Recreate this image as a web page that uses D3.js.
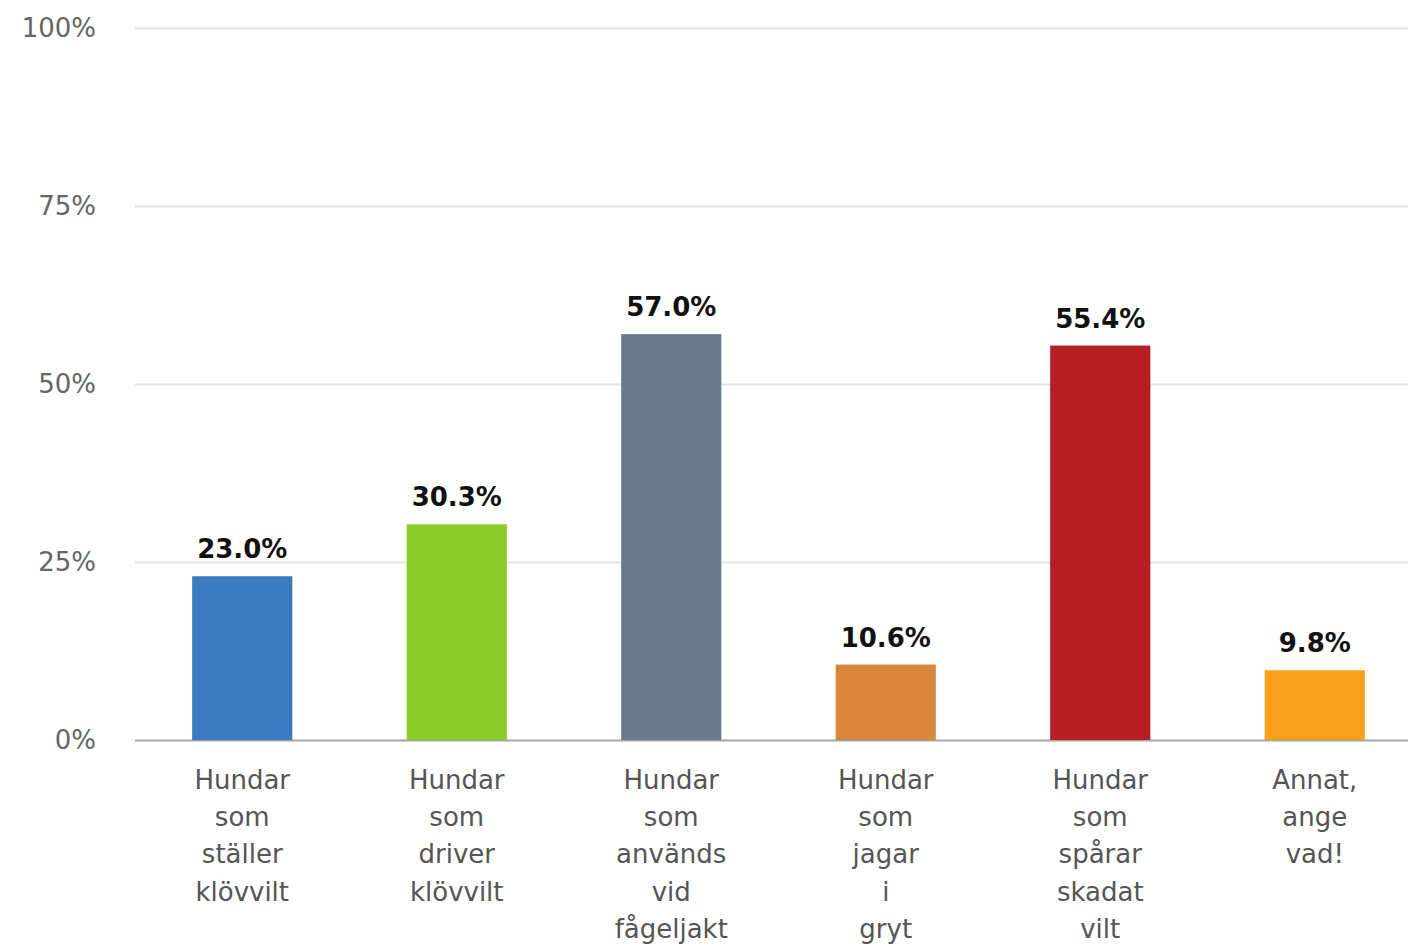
<!DOCTYPE html>
<html>
<head>
<meta charset="utf-8">
<script src="https://cdn.jsdelivr.net/npm/d3@7"></script>
<style>
  body { margin: 0; background: #fff; }
  svg { display: block; font-family: "DejaVu Sans", sans-serif; }
</style>
</head>
<body>
<div id="chart"></div>
<script>
var categories = [
  ["Hundar", "som", "ställer", "klövvilt"],
  ["Hundar", "som", "driver", "klövvilt"],
  ["Hundar", "som", "används", "vid", "fågeljakt"],
  ["Hundar", "som", "jagar", "i", "gryt"],
  ["Hundar", "som", "spårar", "skadat", "vilt"],
  ["Annat,", "ange", "vad!"]
];
var values = [23.0, 30.3, 57.0, 10.6, 55.4, 9.8];
var barColors = ["#3b7bbf", "#8ccb2a", "#687a8c", "#d9873c", "#b51e24", "#f8a01a"];
var yTicks = [0, 25, 50, 75, 100];

var svgWidth = 1408;
var svgHeight = 944;

var svg = d3.select("#chart")
  .append("svg")
  .attr("width", svgWidth)
  .attr("height", svgHeight);

var xBand = d3.scaleBand()
  .domain(d3.range(values.length))
  .range([135, 1422])
  .paddingInner(0.533)
  .paddingOuter(0.2665);

var yLinear = d3.scaleLinear()
  .domain([0, 100])
  .range([740, 28]);

// gridlines + tick labels
var yAxis = d3.axisLeft(yLinear)
  .tickValues(yTicks)
  .tickSize(-(svgWidth - 135))
  .tickPadding(39)
  .tickFormat(d => d + "%");

var yG = svg.append("g")
  .attr("transform", "translate(135,0)")
  .call(yAxis);
yG.select(".domain").remove();
yG.selectAll(".tick line")
  .attr("stroke", d => d === 0 ? "#a6a6a6" : "#e4e4e4")
  .attr("stroke-width", 2);
yG.selectAll(".tick text")
  .attr("fill", "#666")
  .attr("font-size", "26px")
  .attr("font-family", "DejaVu Sans, sans-serif");

// bars
svg.selectAll("rect.bar")
  .data(values)
  .enter()
  .append("rect")
  .attr("class", "bar")
  .attr("x", (d, i) => xBand(i))
  .attr("y", d => yLinear(d))
  .attr("width", xBand.bandwidth())
  .attr("height", d => yLinear(0) - yLinear(d))
  .attr("fill", (d, i) => barColors[i]);

// value labels
svg.selectAll("text.val")
  .data(values)
  .enter()
  .append("text")
  .attr("class", "val")
  .attr("x", (d, i) => xBand(i) + xBand.bandwidth() / 2)
  .attr("y", d => yLinear(d) - 18)
  .attr("text-anchor", "middle")
  .attr("font-size", "26px")
  .attr("font-weight", "bold")
  .attr("fill", "#111")
  .text(d => d.toFixed(1) + "%");

// category labels
var catG = svg.selectAll("text.cat")
  .data(categories)
  .enter()
  .append("text")
  .attr("class", "cat")
  .attr("text-anchor", "middle")
  .attr("font-size", "26px")
  .attr("fill", "#555");

catG.selectAll("tspan")
  .data((d, i) => d.map(w => ({w: w, i: i})))
  .enter()
  .append("tspan")
  .attr("x", d => xBand(d.i) + xBand.bandwidth() / 2)
  .attr("y", (d, j) => 789 + j * 37.2)
  .text(d => d.w);
</script>
</body>
</html>
